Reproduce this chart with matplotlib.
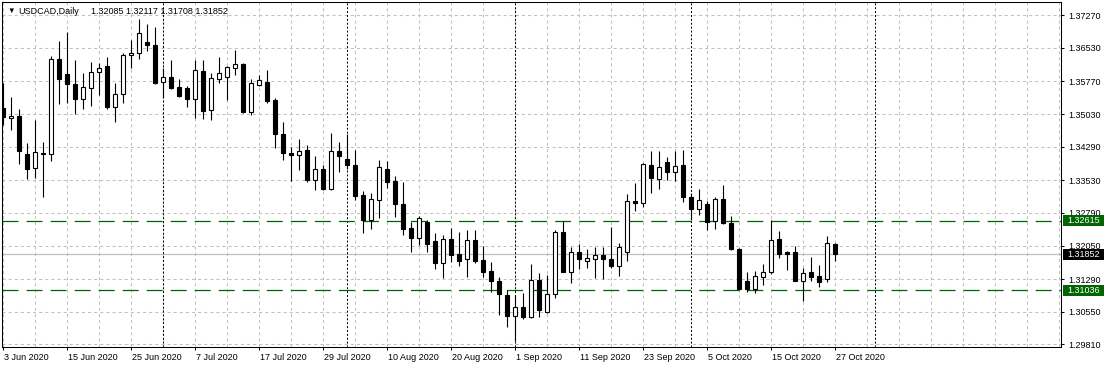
import matplotlib
matplotlib.use("Agg")
import matplotlib.pyplot as plt
import matplotlib.transforms as mtransforms
from matplotlib.patches import Rectangle
import numpy as np

plt.rcParams["font.family"] = ["Liberation Sans", "DejaVu Sans"]
plt.rcParams["lines.scale_dashes"] = False

symbol = "USDCAD,Daily"

# daily bars, 3 Jun 2020 .. 27 Oct 2020
opens = [
    1.3517, 1.3494, 1.3499, 1.3413, 1.3381, 1.3415, 1.3413, 1.3628, 1.3594, 1.3571,
    1.3537, 1.3562, 1.3598, 1.3612, 1.3519, 1.3549, 1.3637, 1.3642, 1.3667, 1.3660,
    1.3576, 1.3587, 1.3564, 1.3562, 1.3537, 1.3601, 1.3512, 1.3583, 1.3587, 1.3608,
    1.3617, 1.3508, 1.3569, 1.3576, 1.3535, 1.3458, 1.3415, 1.3410, 1.3422, 1.3354,
    1.3379, 1.3333, 1.3419, 1.3401, 1.3388, 1.3320, 1.3263, 1.3308, 1.3379, 1.3351,
    1.3299, 1.3245, 1.3222, 1.3258, 1.3215, 1.3166, 1.3220, 1.3186, 1.3175, 1.3218,
    1.3172, 1.3147, 1.3125, 1.3093, 1.3045, 1.3066, 1.3043, 1.3127, 1.3054, 1.3095,
    1.3236, 1.3145, 1.3190, 1.3170, 1.3175, 1.3184, 1.3175, 1.3159, 1.3190, 1.3306,
    1.3302, 1.3388, 1.3356, 1.3394, 1.3372, 1.3388, 1.3315, 1.3288, 1.3299, 1.3261,
    1.3311, 1.3256, 1.3197, 1.3125, 1.3107, 1.3134, 1.3145, 1.3220, 1.3190, 1.3190,
    1.3125, 1.3145, 1.3136, 1.3129, 1.32085,
]
highs = [
    1.3574, 1.3542, 1.3515, 1.3438, 1.3490, 1.3440, 1.3635, 1.3669, 1.3689, 1.3626,
    1.3596, 1.3621, 1.3619, 1.3633, 1.3574, 1.3642, 1.3671, 1.3719, 1.3707, 1.3701,
    1.3608, 1.3626, 1.3583, 1.3567, 1.3626, 1.3626, 1.3596, 1.3633, 1.3612, 1.3648,
    1.3619, 1.3583, 1.3592, 1.3603, 1.3540, 1.3485, 1.3428, 1.3447, 1.3433, 1.3408,
    1.3388, 1.3460, 1.3440, 1.3458, 1.3422, 1.3329, 1.3324, 1.3399, 1.3397, 1.3363,
    1.3349, 1.3258, 1.3272, 1.3263, 1.3233, 1.3229, 1.3245, 1.3236, 1.3240, 1.3240,
    1.3204, 1.3168, 1.3134, 1.3104, 1.3091, 1.3098, 1.3163, 1.3143, 1.3138, 1.3240,
    1.3261, 1.3202, 1.3209, 1.3197, 1.3202, 1.3202, 1.3247, 1.3211, 1.3322, 1.3347,
    1.3392, 1.3419, 1.3419, 1.3406, 1.3419, 1.3422, 1.3324, 1.3333, 1.3306, 1.3315,
    1.3342, 1.3272, 1.3199, 1.3145, 1.3147, 1.3163, 1.3263, 1.3238, 1.3193, 1.3204,
    1.3154, 1.3179, 1.3161, 1.3227, 1.32117,
]
lows = [
    1.3478, 1.3467, 1.3390, 1.3356, 1.3358, 1.3315, 1.3397, 1.3526, 1.3528, 1.3503,
    1.3515, 1.3521, 1.3546, 1.3515, 1.3485, 1.3528, 1.3608, 1.3628, 1.3646, 1.3572,
    1.3542, 1.3560, 1.3542, 1.3519, 1.3494, 1.3492, 1.3490, 1.3574, 1.3535, 1.3592,
    1.3506, 1.3501, 1.3567, 1.3528, 1.3426, 1.3399, 1.3351, 1.3376, 1.3349, 1.3331,
    1.3331, 1.3331, 1.3372, 1.3379, 1.3308, 1.3233, 1.3243, 1.3267, 1.3335, 1.3270,
    1.3229, 1.3190, 1.3206, 1.3190, 1.3152, 1.3131, 1.3168, 1.3159, 1.3134, 1.3166,
    1.3134, 1.3100, 1.3048, 1.3020, 1.2989, 1.3039, 1.3041, 1.3043, 1.3052, 1.3086,
    1.3145, 1.3120, 1.3152, 1.3154, 1.3131, 1.3129, 1.3154, 1.3136, 1.3170, 1.3283,
    1.3292, 1.3324, 1.3333, 1.3354, 1.3351, 1.3304, 1.3263, 1.3274, 1.3240, 1.3243,
    1.3254, 1.3195, 1.3104, 1.3100, 1.3098, 1.3116, 1.3141, 1.3177, 1.3150, 1.3125,
    1.3079, 1.3125, 1.3111, 1.3122, 1.31708,
]
closes = [
    1.3496, 1.3499, 1.3419, 1.3379, 1.3417, 1.3413, 1.3628, 1.3583, 1.3571, 1.3537,
    1.3564, 1.3598, 1.3608, 1.3519, 1.3549, 1.3637, 1.3642, 1.3687, 1.3660, 1.3574,
    1.3587, 1.3562, 1.3544, 1.3537, 1.3603, 1.3510, 1.3585, 1.3596, 1.3610, 1.3617,
    1.3508, 1.3574, 1.3580, 1.3533, 1.3458, 1.3415, 1.3410, 1.3419, 1.3354, 1.3379,
    1.3333, 1.3419, 1.3408, 1.3388, 1.3317, 1.3263, 1.3311, 1.3383, 1.3349, 1.3299,
    1.3243, 1.3222, 1.3267, 1.3209, 1.3166, 1.3220, 1.3184, 1.3170, 1.3218, 1.3170,
    1.3145, 1.3125, 1.3095, 1.3045, 1.3066, 1.3043, 1.3127, 1.3059, 1.3095, 1.3236,
    1.3145, 1.3190, 1.3175, 1.3177, 1.3184, 1.3175, 1.3159, 1.3202, 1.3306, 1.3302,
    1.3390, 1.3358, 1.3383, 1.3372, 1.3385, 1.3315, 1.3288, 1.3308, 1.3258, 1.3311,
    1.3256, 1.3197, 1.3107, 1.3107, 1.3136, 1.3145, 1.3218, 1.3186, 1.3186, 1.3125,
    1.3143, 1.3134, 1.3122, 1.3211, 1.31852,
]

date_labels = ["3 Jun 2020", "15 Jun 2020", "25 Jun 2020", "7 Jul 2020", "17 Jul 2020",
               "29 Jul 2020", "10 Aug 2020", "20 Aug 2020", "1 Sep 2020", "11 Sep 2020",
               "23 Sep 2020", "5 Oct 2020", "15 Oct 2020", "27 Oct 2020"]
date_label_bars = [0, 8, 16, 24, 32, 40, 48, 56, 64, 72, 80, 88, 96, 104]
month_starts = [20, 43, 64, 86, 109]   # period separators (last one in the future)

price_ticks = [1.37270, 1.36530, 1.35770, 1.35030, 1.34290, 1.33530,
               1.32790, 1.32050, 1.31290, 1.30550, 1.29810]
levels = [1.32615, 1.31036]
last_price = closes[-1]

W, H = 1107, 368
fig = plt.figure(figsize=(W / 100, H / 100), dpi=100)
ax = fig.add_axes([2 / W, 21 / H, 1059 / W, 345 / H])

o = np.array(opens)
h = np.array(highs)
l = np.array(lows)
c = np.array(closes)
x = np.arange(len(c))
up = c >= o

# grid
for p in price_ticks:
    ax.axhline(p, color="#c0c0c0", lw=0.75, ls=(0, (2.2, 2.2)), zorder=1)
for i in range(0, 133, 4):
    ax.axvline(i, color="#c0c0c0", lw=0.75, ls=(0, (2.2, 2.2)), zorder=1)
for m in month_starts:
    ax.axvline(m, color="black", lw=0.75, ls=(0, (1.4, 1.4)), zorder=2)

ax.axhline(last_price, color="#c0c0c0", lw=0.9, zorder=1.5)
for lv in levels:
    ax.axhline(lv, color="#006400", lw=0.9, ls=(0, (11.5, 5.8)), zorder=2)

# candles
ax.vlines(x, l, h, color="black", lw=0.8, zorder=3)
bottom = np.minimum(o, c)
height = np.abs(c - o)
ax.bar(x[up], height[up], bottom=bottom[up], width=0.62, color="white",
       edgecolor="black", linewidth=0.8, zorder=4)
ax.bar(x[~up], height[~up], bottom=bottom[~up], width=0.62, color="black",
       edgecolor="black", linewidth=0.8, zorder=4)

ax.set_xlim(-0.125, 132.25)
ax.set_ylim(1.29751, 1.37572)

ax.yaxis.tick_right()
ax.set_yticks(price_ticks)
ax.set_yticklabels([f"{p:.5f}" for p in price_ticks])
ax.tick_params(axis="y", direction="out", length=2.5, width=0.75, pad=3, labelsize=6.5)
ax.set_xticks(date_label_bars)
ax.set_xticklabels(date_labels, ha="left")
ax.tick_params(axis="x", direction="out", length=2.5, width=0.75, pad=2, labelsize=6.5)
shift = mtransforms.ScaledTranslation(1 / 100, 0, fig.dpi_scale_trans)
for lbl in ax.get_xticklabels():
    lbl.set_transform(lbl.get_transform() + shift)
for sp in ax.spines.values():
    sp.set_linewidth(0.75)

# price labels on the right scale
trans = mtransforms.blended_transform_factory(ax.transAxes, ax.transData)
half = 5.5 * (1.37572 - 1.29751) / 345
for val, col in [(levels[0], "#006400"), (levels[1], "#006400"), (last_price, "black")]:
    ax.add_patch(Rectangle((1.0019, val - half), 41 / 1059, 2 * half, transform=trans,
                           facecolor=col, edgecolor="none", clip_on=False, zorder=6))
    ax.text(1.0057, val, f"{val:.5f}", transform=trans, color="white", fontsize=6.5,
            ha="left", va="center", clip_on=False, zorder=7)

# header
ty = 1 - 11 / H
fig.text(7 / W, ty, "\u25bc", fontsize=5.5, va="center", color="black")
fig.text(18 / W, ty, symbol, fontsize=6.5, va="center", color="black")
fig.text(91 / W, ty, f"{opens[-1]:.5f} {highs[-1]:.5f} {lows[-1]:.5f} {closes[-1]:.5f}",
         fontsize=6.5, va="center", color="black")

fig.savefig("out.png", dpi=100)
